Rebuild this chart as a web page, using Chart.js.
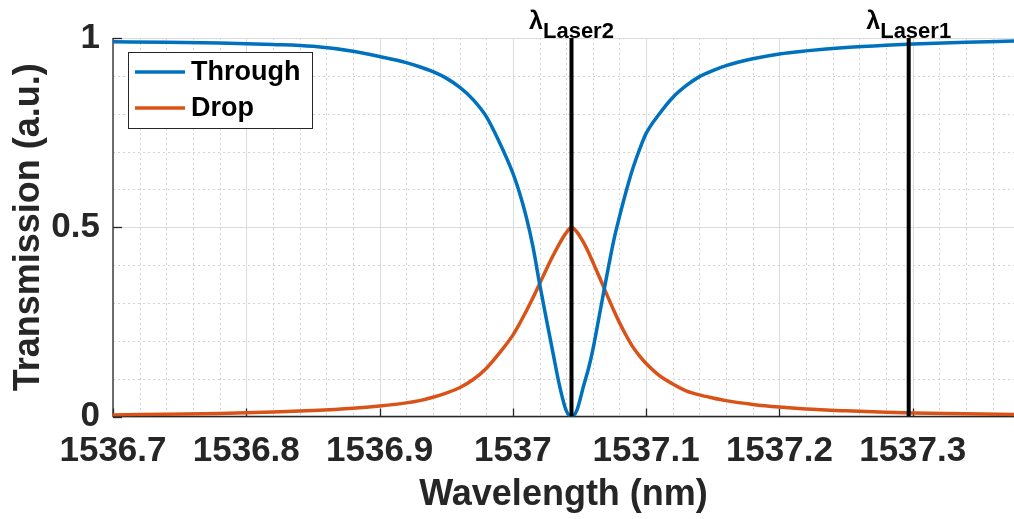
<!DOCTYPE html>
<html>
<head>
<meta charset="utf-8">
<title>Transmission</title>
<script src="https://cdn.jsdelivr.net/npm/chart.js@4.4.1/dist/chart.umd.min.js"></script>
<style>
  html, body { margin: 0; padding: 0; background: #fff; }
  #wrap { width: 1014px; height: 519px; }
</style>
</head>
<body>
<div id="wrap"><canvas id="chart" width="1014" height="519"></canvas></div>
<script>
// Values
const wavelength = [1536.70, 1536.74, 1536.78, 1536.82, 1536.85, 1536.88, 1536.90, 1536.92, 1536.93,
    1536.94, 1536.95, 1536.96, 1536.97, 1536.98, 1536.99, 1537.00, 1537.005, 1537.01, 1537.015,
    1537.02, 1537.025, 1537.03, 1537.035, 1537.040, 1537.044, 1537.048, 1537.053, 1537.057, 1537.06,
    1537.064, 1537.068, 1537.072, 1537.076, 1537.08, 1537.085, 1537.09, 1537.095, 1537.10, 1537.11,
    1537.12, 1537.13, 1537.14, 1537.15, 1537.16, 1537.18, 1537.20, 1537.22, 1537.25, 1537.28,
    1537.30, 1537.34, 1537.376];
const through = [0.990, 0.989, 0.987, 0.983, 0.978, 0.965, 0.951, 0.935, 0.924,
    0.911, 0.894, 0.870, 0.838, 0.793, 0.724, 0.643, 0.591, 0.528, 0.450,
    0.352, 0.260, 0.170, 0.082, 0.016, 0.000, 0.016, 0.080, 0.130, 0.176,
    0.250, 0.326, 0.400, 0.470, 0.528, 0.595, 0.655, 0.705, 0.748, 0.800,
    0.843, 0.874, 0.898, 0.914, 0.927, 0.945, 0.958, 0.966, 0.975, 0.981,
    0.984, 0.989, 0.992];
const drop = [0.004, 0.006, 0.008, 0.012, 0.016, 0.022, 0.028, 0.036, 0.042,
    0.051, 0.062, 0.076, 0.097, 0.127, 0.168, 0.215, 0.245, 0.278, 0.313,
    0.350, 0.388, 0.424, 0.457, 0.485, 0.500, 0.488, 0.460, 0.432, 0.408,
    0.376, 0.343, 0.310, 0.278, 0.248, 0.214, 0.184, 0.160, 0.140, 0.108,
    0.086, 0.068, 0.057, 0.049, 0.042, 0.032, 0.025, 0.020, 0.015, 0.011,
    0.009, 0.007, 0.005];
const xTicks = [1536.7, 1536.8, 1536.9, 1537.0, 1537.1, 1537.2, 1537.3];
const yTicks = [0, 0.5, 1];
const lasers = [
    { name: 'Laser2', wavelength: 1537.044 },
    { name: 'Laser1', wavelength: 1537.297 }
];
const X_MIN = 1536.7;
const X_MAX = 1537.376;

const FONT = '"Liberation Sans", Arial, Helvetica, sans-serif';
const TEXT = '#262626';
const BLUE = '#0072BD';
const ORANGE = '#D95319';

function points(ys) {
    return wavelength.map((x, i) => ({ x: x, y: ys[i] }));
}

// grid, axis lines and inward tick marks (MATLAB look)
const axesPlugin = {
    id: 'matlabAxes',
    beforeDatasetsDraw(chart) {
        const { ctx, chartArea: a, scales: { x, y } } = chart;
        ctx.save();
        ctx.lineWidth = 1;

        // minor grid (dotted)
        ctx.strokeStyle = '#d4d4d4';
        ctx.setLineDash([2, 3]);
        for (let v = X_MIN; v <= X_MAX + 1e-9; v += 0.02) {
            const px = Math.round(x.getPixelForValue(v)) + 0.5;
            ctx.beginPath(); ctx.moveTo(px, a.top); ctx.lineTo(px, a.bottom); ctx.stroke();
        }
        for (let v = 0.1; v < 1; v += 0.1) {
            const py = Math.round(y.getPixelForValue(v)) + 0.5;
            ctx.beginPath(); ctx.moveTo(a.left, py); ctx.lineTo(a.right, py); ctx.stroke();
        }

        // major grid (solid)
        ctx.setLineDash([]);
        ctx.strokeStyle = '#dcdcdc';
        xTicks.forEach(v => {
            const px = Math.round(x.getPixelForValue(v)) + 0.5;
            ctx.beginPath(); ctx.moveTo(px, a.top); ctx.lineTo(px, a.bottom); ctx.stroke();
        });
        yTicks.forEach(v => {
            const py = Math.round(y.getPixelForValue(v)) + 0.5;
            ctx.beginPath(); ctx.moveTo(a.left, py); ctx.lineTo(a.right, py); ctx.stroke();
        });

        // axis lines
        ctx.strokeStyle = TEXT;
        ctx.lineWidth = 1.3;
        ctx.beginPath();
        ctx.moveTo(a.left, a.top);
        ctx.lineTo(a.left, a.bottom);
        ctx.lineTo(a.right, a.bottom);
        ctx.stroke();

        // inward ticks
        xTicks.forEach(v => {
            const px = Math.round(x.getPixelForValue(v)) + 0.5;
            ctx.beginPath(); ctx.moveTo(px, a.bottom); ctx.lineTo(px, a.bottom - 8); ctx.stroke();
        });
        yTicks.forEach(v => {
            const py = Math.round(y.getPixelForValue(v)) + 0.5;
            ctx.beginPath(); ctx.moveTo(a.left, py); ctx.lineTo(a.left + 9, py); ctx.stroke();
        });
        ctx.restore();
    },
    afterDraw(chart) {
        const { ctx, chartArea: a, scales: { x } } = chart;
        ctx.save();

        // laser labels: lambda with subscript, centred on each line
        lasers.forEach(l => {
            const cx = x.getPixelForValue(l.wavelength);
            ctx.font = 'bold 25px ' + FONT;
            const wL = ctx.measureText('\u03bb').width;
            ctx.font = 'bold 22px ' + FONT;
            const wS = ctx.measureText(l.name).width;
            const left = cx - (wL + wS) / 2;
            ctx.fillStyle = '#000';
            ctx.textBaseline = 'alphabetic';
            ctx.textAlign = 'left';
            ctx.font = 'bold 25px ' + FONT;
            ctx.fillText('\u03bb', left, a.top - 9);
            ctx.font = 'bold 22px ' + FONT;
            ctx.fillText(l.name, left + wL, a.top);
        });

        // legend box
        const bx = 128.5, by = 52.5, bw = 184, bh = 76;
        ctx.fillStyle = '#fff';
        ctx.fillRect(bx, by, bw, bh);
        ctx.strokeStyle = TEXT;
        ctx.lineWidth = 1;
        ctx.strokeRect(bx, by, bw, bh);
        const items = chart.data.datasets.filter(d => d.inLegend);
        items.forEach((d, i) => {
            const yy = 72 + i * 36;
            ctx.strokeStyle = d.borderColor;
            ctx.lineWidth = 3.5;
            ctx.beginPath(); ctx.moveTo(135, yy); ctx.lineTo(185, yy); ctx.stroke();
            ctx.fillStyle = '#000';
            ctx.font = 'bold 27px ' + FONT;
            ctx.textBaseline = 'middle';
            ctx.fillText(d.label, 191, yy + 1);
        });
        ctx.restore();
    }
};

const laserSets = lasers.map(l => ({
    label: l.name,
    data: [{ x: l.wavelength, y: 0 }, { x: l.wavelength, y: 1 }],
    borderColor: '#000',
    borderWidth: 4,
    tension: 0,
    order: 0
}));

new Chart(document.getElementById('chart'), {
    type: 'scatter',
    data: {
        datasets: [
            ...laserSets,
            { label: 'Through', data: points(through), borderColor: BLUE, borderWidth: 3.5,
              cubicInterpolationMode: 'monotone', order: 1, inLegend: true },
            { label: 'Drop', data: points(drop), borderColor: ORANGE, borderWidth: 3.5,
              cubicInterpolationMode: 'monotone', order: 1, inLegend: true }
        ]
    },
    options: {
        responsive: false,
        animation: false,
        showLine: true,
        elements: { point: { radius: 0, hoverRadius: 0 } },
        layout: { padding: { top: 38, right: 0, left: 0, bottom: 0 } },
        plugins: { legend: { display: false }, tooltip: { enabled: false } },
        scales: {
            x: {
                type: 'linear',
                min: X_MIN,
                max: X_MAX,
                afterBuildTicks: s => { s.ticks = xTicks.map(v => ({ value: v })); },
                afterFit: s => { s.height = 102.5; },
                grid: { display: false, drawTicks: false },
                border: { display: false },
                ticks: {
                    autoSkip: false, maxRotation: 0, padding: 14, color: TEXT,
                    font: { family: FONT, size: 35, weight: 'bold' },
                    callback: v => String(Math.round(v * 10) / 10)
                },
                title: {
                    display: true, text: 'Wavelength (nm)', color: TEXT,
                    font: { family: FONT, size: 36, weight: 'bold' },
                    padding: { top: 0, bottom: 2 }
                }
            },
            y: {
                min: 0,
                max: 1,
                afterBuildTicks: s => { s.ticks = yTicks.map(v => ({ value: v })); },
                afterFit: s => { s.width = 113; },
                grid: { display: false, drawTicks: false },
                border: { display: false },
                ticks: {
                    padding: 13, color: TEXT,
                    font: { family: FONT, size: 35, weight: 'bold' },
                    callback: v => String(v)
                },
                title: {
                    display: true, text: 'Transmission (a.u.)', color: TEXT,
                    font: { family: FONT, size: 36, weight: 'bold' },
                    padding: { top: 7, bottom: 0 }
                }
            }
        }
    },
    plugins: [axesPlugin]
});
</script>
</body>
</html>
